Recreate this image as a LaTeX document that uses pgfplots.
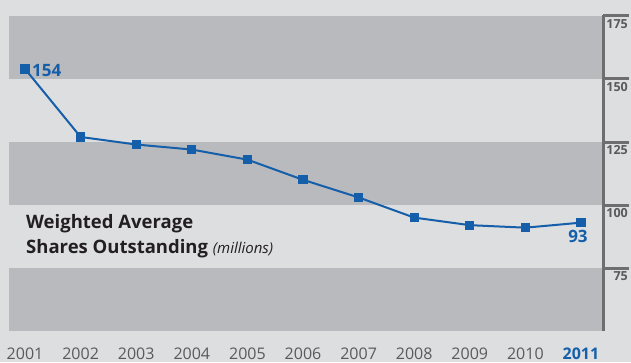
\documentclass[border=0pt]{standalone}
\usepackage{pgfplots}
\pgfplotsset{compat=1.18}
\usepackage{fontspec}
\setmainfont{Open Sans}
\definecolor{bgcol}{RGB}{221,222,224}
\definecolor{band}{RGB}{185,186,189}
\definecolor{lineblue}{RGB}{20,94,170}
\definecolor{axgray}{RGB}{110,110,112}
\definecolor{txtgray}{RGB}{90,90,92}
\definecolor{titlecol}{RGB}{35,31,32}
\begin{document}
\begin{tikzpicture}
\fill[bgcol] (0,0) rectangle (631pt,362pt);
\begin{axis}[
  at={(9pt,31pt)}, anchor=south west,
  scale only axis, width=594pt, height=315pt,
  xmin=-0.288, xmax=10.396, ymin=50, ymax=175,
  axis lines=none, clip=false,
  xtick=\empty, ytick=\empty,
]
\fill[band] (axis cs:-0.288,150) rectangle (axis cs:10.396,175);
\fill[band] (axis cs:-0.288,100) rectangle (axis cs:10.396,125);
\fill[band] (axis cs:-0.288,50) rectangle (axis cs:10.396,75);
\draw[axgray, line width=3pt] (axis cs:10.396,50) -- (axis cs:10.396,175.5);
\pgfplotsinvokeforeach{75,100,125,150,175}{
  \draw[axgray, line width=3pt] (axis cs:10.396,#1) -- ([xshift=25.5pt]axis cs:10.396,#1);
  \node[anchor=north east, inner sep=0pt, font=\fontsize{12.5}{14}\selectfont\bfseries, text=txtgray] at ([xshift=25pt,yshift=-3pt]axis cs:10.396,#1) {#1};
}
\addplot[lineblue, line width=2pt, mark=square*, mark size=3.6pt, mark options={solid}] coordinates {
(0,154) (1,127) (2,124) (3,122) (4,118) (5,110) (6,103) (7,95) (8,92) (9,91) (10,93)
};
\node[anchor=west, text=lineblue, font=\fontsize{17}{19}\selectfont\bfseries, inner sep=0pt] at ([xshift=7pt,yshift=-2pt]axis cs:0,154) {154};
\node[anchor=north, text=lineblue, font=\fontsize{17}{19}\selectfont\bfseries, inner sep=0pt] at ([xshift=-3pt,yshift=-7pt]axis cs:10,93) {93};
\pgfplotsinvokeforeach{0,1,2,3,4,5,6,7,8,9}{
  \node[text=txtgray, font=\fontsize{16}{18}\selectfont, inner sep=0pt] at ([yshift=-22.5pt]axis cs:#1,50) {\pgfmathparse{int(2001+#1)}\pgfmathresult};
}
\node[text=lineblue, font=\fontsize{16}{18}\selectfont\bfseries, inner sep=0pt] at ([yshift=-22.5pt]axis cs:10,50) {2011};
\node[anchor=north west, align=left, text=titlecol, font=\fontsize{18.5}{25}\selectfont\bfseries, inner sep=0pt] at ([xshift=1pt,yshift=-9pt]axis cs:0,100) {Weighted Average\\Shares Outstanding {\fontsize{15}{17}\selectfont\mdseries\itshape (millions)}};
\end{axis}
\pgfresetboundingbox
\useasboundingbox (0,0) rectangle (631pt,362pt);
\end{tikzpicture}
\end{document}
